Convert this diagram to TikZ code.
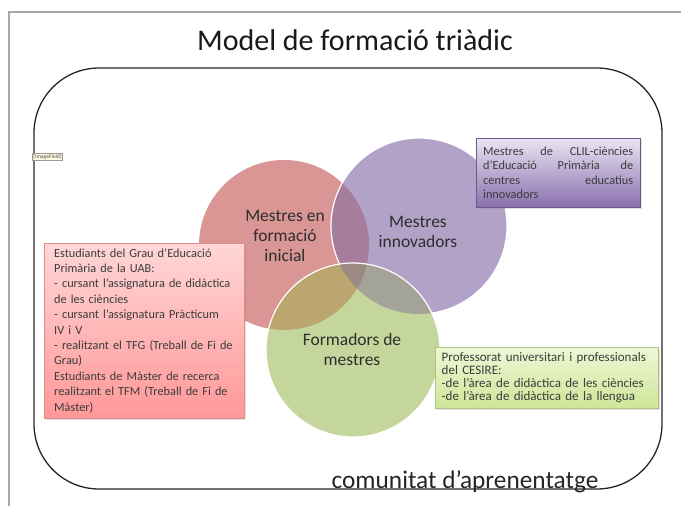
\documentclass[tikz,border=0pt]{standalone}
\usepackage{fontspec}
\setmainfont{Carlito}
\usepackage{tikz}
\usetikzlibrary{shadows}

\definecolor{redcirc}{RGB}{217,150,148}
\definecolor{purplecirc}{RGB}{179,162,199}
\definecolor{greencirc}{RGB}{196,214,155}
\definecolor{redpurple}{RGB}{166,126,156}
\definecolor{redgreen}{RGB}{186,166,110}
\definecolor{purplegreen}{RGB}{164,163,154}
\definecolor{allthree}{RGB}{156,138,130}
\definecolor{textgray}{RGB}{60,60,60}
\definecolor{framegray}{RGB}{168,168,168}
\definecolor{pinktop}{RGB}{255,214,214}
\definecolor{pinkbot}{RGB}{255,152,152}
\definecolor{lilatop}{RGB}{234,228,243}
\definecolor{lilabot}{RGB}{138,112,172}
\definecolor{verdtop}{RGB}{238,247,214}
\definecolor{verdbot}{RGB}{206,230,152}

\tikzset{
  infobox/.style={rectangle, draw=#1, line width=0.4pt, text=textgray,
    anchor=north west, inner ysep=0pt,
    drop shadow={opacity=.25, shadow xshift=1.5pt, shadow yshift=-1.5pt}},
  circlabel/.style={align=center, text=black!82, font=\fontsize{17.5}{20}\selectfont},
  whiteedge/.style={draw=white, line width=1.2pt}
}

\begin{document}
\begin{tikzpicture}[x=1pt,y=-1pt]
  \useasboundingbox (0,0) rectangle (681,506);
  % frame of the slide
  \coordinate (frame-bl) at (9,506);
  \coordinate (frame-tl) at (9,12);
  \coordinate (frame-tr) at (681,12);
  \draw[framegray,line width=1.5pt] (frame-bl) -- (frame-tl) -- (frame-tr);
  \node[font=\fontsize{30}{36}\selectfont, text=black!90] (titol) at (355,40) {Model de formació triàdic};
  % learning community
  \node[draw=black!85, line width=1.3pt, rounded corners=65pt, minimum width=628pt, minimum height=421pt] (comunitat) at (348,278.5) {};
  \node[font=\fontsize{25.3}{30}\selectfont, text=black!85, anchor=base] (comunitat-lbl) at (465,488) {comunitat d’aprenentatge};
  \node[draw=black!40, fill=yellow!12, font=\fontsize{5.6}{6}\selectfont, inner sep=1pt, text=black!70] (camp) at (47.5,157) {[ImageField]};

  % the three circles
  \coordinate (inicial) at (284,245);
  \coordinate (innovadors) at (419,226);
  \coordinate (formadors) at (353,350);
  \fill[redcirc] (inicial) circle[radius=85pt];
  \fill[purplecirc] (innovadors) circle[radius=88pt];
  \begin{scope}
    \clip (inicial) circle[radius=85pt];
    \fill[redpurple] (innovadors) circle[radius=88pt];
  \end{scope}
  \draw[whiteedge] (innovadors) circle[radius=88pt];
  \fill[greencirc] (formadors) circle[radius=87pt];
  \begin{scope}
    \clip (formadors) circle[radius=87pt];
    \fill[redgreen] (inicial) circle[radius=85pt];
    \fill[purplegreen] (innovadors) circle[radius=88pt];
    \clip (inicial) circle[radius=85pt];
    \fill[allthree] (innovadors) circle[radius=88pt];
  \end{scope}
  \draw[whiteedge] (formadors) circle[radius=87pt];

  \node[circlabel] (inicial-lbl) at (285,236) {Mestres en\\formació\\inicial};
  \node[circlabel] (innovadors-lbl) at (418,232) {Mestres\\innovadors};
  \node[circlabel] (formadors-lbl) at (352,349) {Formadors de\\mestres};

  % description boxes
  \node[infobox=pinkbot!90!black, top color=pinktop, bottom color=pinkbot,
    text width=180pt, inner xsep=10pt, minimum height=175pt, align=left,
    font=\fontsize{12.3}{15.4}\selectfont] (estudiants) at (44,243)
    {Estudiants del Grau d’Educació\\
     Primària de la UAB:\\
     - cursant l’assignatura de didàctica\\
     de les ciències\\
     - cursant l’assignatura Pràcticum\\
     IV i V\\
     - realitzant el TFG (Treball de Fi de\\
     Grau)\\
     Estudiants de Màster de recerca\\
     realitzant el TFM (Treball de Fi de\\
     Màster)};
  \node[infobox=lilabot!80!black, top color=lilatop, bottom color=lilabot,
    text width=150pt, inner xsep=7pt, minimum height=69pt, align=justify,
    font=\fontsize{12.3}{14.5}\selectfont] (clil) at (476,138)
    {Mestres\hfill de\hfill CLIL-ciències\\
     d’Educació\hfill Primària\hfill de\\
     centres\hfill educatius\\
     innovadors};
  \node[infobox=verdbot!85!black, top color=verdtop, bottom color=verdbot,
    text width=210pt, inner xsep=6.5pt, minimum height=61pt, align=left,
    font=\fontsize{13}{12.8}\selectfont] (professorat) at (435,347)
    {Professorat universitari i professionals\\
     del CESIRE:\\
     -de l’àrea de didàctica de les ciències\\
     -de l’àrea de didàctica de la llengua};
\end{tikzpicture}
\end{document}
